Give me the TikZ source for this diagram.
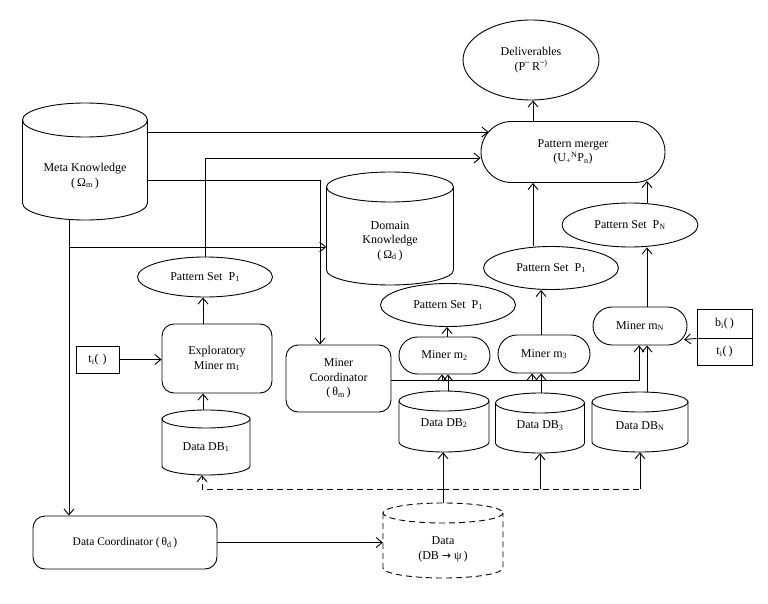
\documentclass[tikz,border=0pt]{standalone}
\usepackage{fontspec}
\setmainfont{Liberation Serif}
\newfontfamily\symf{DejaVu Sans}
\usetikzlibrary{arrows.meta,shapes.geometric,shapes.misc,fit,calc}

\tikzset{
  lw/.style={line width=0.9pt},
  arr/.style={lw,-{Straight Barb[length=6pt,width=10pt]}},
  dsh/.style={dash pattern=on 6pt off 4pt},
  txt/.style={font=\fontsize{12}{14.5}\selectfont, align=center, inner sep=0pt},
  ell/.style={draw,lw,ellipse,inner sep=0pt,txt},
  rbox/.style={draw,lw,rectangle,rounded corners=12pt,inner sep=0pt,txt},
  stad/.style={draw,lw,rounded rectangle,inner sep=0pt,txt},
  sbox/.style={draw,lw,rectangle,inner sep=0pt,txt},
}

\newcommand\cyl[7]{%
  \draw[lw,#7] (#2,#4) ellipse [x radius=#3, y radius=#5];
  \draw[lw,#7] ({#2-#3},#4) -- ({#2-#3},#6) arc[start angle=180,end angle=0,x radius=#3,y radius=#5] -- ({#2+#3},#4);
  \node[fit={({#2-#3},{#4-#5}) ({#2+#3},{#6+#5})},inner sep=0pt] (#1) {};
}

\begin{document}
\begin{tikzpicture}[x=1pt,y=1pt,yscale=-1]
\useasboundingbox (0,0) rectangle (768,604);

% nodes
\node[ell,minimum width=136,minimum height=80] (deliv) at (531,60) {Deliverables\\(P\textsuperscript{\~{}}\,R\textsuperscript{\~{})}};
\node[stad,minimum width=184,minimum height=61] (merger) at (573,152) {Pattern merger\\(U\textsubscript{+}\textsuperscript{N}P\textsubscript{n})};

\cyl{meta}{85}{62.5}{120}{17}{203}{}
\node[txt] (metat) at (85,176) {Meta Knowledge\\(\,Ω\textsubscript{m}\,)};

\cyl{domain}{390}{63.5}{187}{15}{270}{}
\node[txt] (domt) at (390,241) {Domain\\Knowledge\\(\,Ω\textsubscript{d}\,)};

\node[ell,minimum width=135,minimum height=40] (psL) at (205,277) {Pattern Set~ P\textsubscript{1}};
\node[rbox,minimum width=110,minimum height=69] (expl) at (217,358.5) {Exploratory\\Miner m\textsubscript{1}};
\node[sbox,minimum width=43,minimum height=27] (tb) at (97.5,359.5) {t\textsubscript{i}(\,\,)};

\cyl{db1}{206}{44}{419}{9}{466}{}
\node[txt] (db1t) at (206,447) {Data DB\textsubscript{1}};

\node[rbox,minimum width=105,minimum height=67] (mc) at (338.5,378.5) {Miner\\Coordinator\\(\,θ\textsubscript{m}\,)};

\node[ell,minimum width=135,minimum height=43] (psM) at (448,305) {Pattern Set~ P\textsubscript{1}};
\node[stad,minimum width=91,minimum height=37] (m2) at (444.5,355.5) {Miner m\textsubscript{2}};
\node[stad,minimum width=92,minimum height=38] (m3) at (544,354) {Miner m\textsubscript{3}};
\node[stad,minimum width=94,minimum height=38] (mN) at (640,326) {Miner m\textsubscript{N}};
\node[sbox,minimum width=55,minimum height=29] (bi) at (724.5,323.5) {b\textsubscript{i}(\,)};
\node[sbox,minimum width=55,minimum height=27] (ti) at (724.5,351.5) {t\textsubscript{i}(\,)};

\node[ell,minimum width=135,minimum height=43] (psR) at (551,268) {Pattern Set~ P\textsubscript{1}};
\node[ell,minimum width=136,minimum height=44] (psN) at (630,225) {Pattern Set~ P\textsubscript{N}};

\cyl{db2}{444}{45}{401}{10}{442}{}
\node[txt] (db2t) at (444,423) {Data DB\textsubscript{2}};
\cyl{db3}{540}{44.5}{403}{10}{443}{}
\node[txt] (db3t) at (540,426) {Data DB\textsubscript{3}};
\cyl{dbN}{640}{48}{402}{10}{442}{}
\node[txt] (dbNt) at (640,426) {Data DB\textsubscript{N}};

\cyl{data}{443}{60}{513}{10}{568}{dsh}
\node[txt] (datat) at (443,549.5) {Data\\(DB {\symf\fontsize{11}{12}\selectfont →} ψ\,)};

\node[rbox,minimum width=184,minimum height=53,font=\fontsize{11.5}{14}\selectfont] (dc) at (125,542.5) {Data Coordinator (\,θ\textsubscript{d}\,)};

% coordinates
\coordinate (br) at (69,247);
\coordinate (mg1) at (488.5,132);
\coordinate (dj) at (443,489);
\coordinate (j3) at (540,489);
\coordinate (jN) at (640,489);
\coordinate (c2) at (442,380);
\coordinate (c3) at (532,380);
\coordinate (mNin) at (684,339.5);

% connectors
\draw[arr] (merger.north -| 533,0) -- (deliv.south -| 533,0);
\draw[arr] (meta.east |- mg1) -- (mg1);
\draw[arr] (psL.north) |- (merger.west |- 0,158);
\draw[arr] (meta.east |- 0,180) -| (mc.north -| 320,0);
\draw[arr] (meta.south -| br) -- (dc.north -| br);
\draw[arr] (br) -- (domain.west |- br);

\draw[arr] (tb.east) -- (expl.west |- tb.east);
\draw[arr] (db1.north -| 203,0) -- (expl.south -| 203,0);
\draw[arr] (expl.north -| 203,0) -- (psL.south -| 203,0);

\draw[arr,dsh] (dj) -| (db1.south -| 202,0);
\draw[lw,dsh] (dj) -- (jN);
\draw[arr] (j3) -- (db3.south -| j3);
\draw[arr] (jN) -- (dbN.south -| jN);
\draw[arr] (data.north) -- (data.north |- db2.south);
\draw[arr] (dc.east) -- (data.west |- dc.east);

\draw[arr] (mc.east |- 0,380) -| (mN.south -| 639,0);
\draw[arr] (c2) -- (m2.south -| c2);
\draw[arr] (c3) -- (m3.south -| c3);
\draw[arr] (db2.north -| 448,0) -- (m2.south -| 448,0);
\draw[arr] (db3.north -| 541,0) -- (m3.south -| 541,0);
\draw[arr] (dbN.north -| 647,0) -- (mN.south -| 647,0);

\draw[arr] (m2.north -| 447,0) -- (psM.south -| 447,0);
\draw[arr] (m3.north -| 541,0) -- (psR.south -| 541,0);
\draw[arr] (mN.north -| 647,0) -- (psN.south -| 647,0);
\draw[arr] (psR.north -| 533,0) -- (merger.south -| 533,0);
\draw[arr] (psN.north -| 647,0) -- (647,181);
\draw[arr] (bi.south west) -- (mNin);
\end{tikzpicture}
\end{document}
